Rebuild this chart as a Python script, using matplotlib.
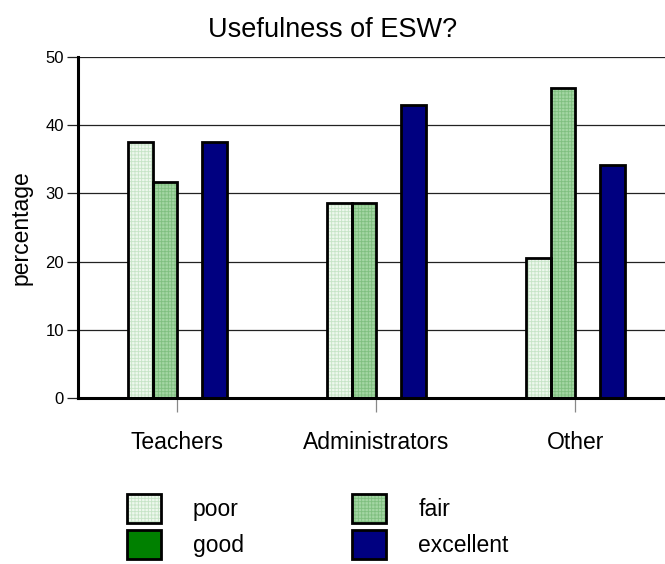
import matplotlib
matplotlib.use("Agg")
import matplotlib.pyplot as plt
import numpy as np
from matplotlib.legend_handler import HandlerTuple

categories = ["Teachers", "Administrators", "Other"]
series = ["poor", "fair", "good", "excellent"]
poor = [37.5, 28.6, 20.5]
fair = [31.6, 28.6, 45.5]
good = [0.0, 0.0, 0.0]
excellent = [37.5, 42.9, 34.1]
values = [poor, fair, good, excellent]

fills = ["#eef8ee", "#a4d6a4", "#008000", "#000080"]
hatch_colors = ["#c6e4c6", "#7fbf7f", None, None]

plt.rcParams["font.family"] = ["Liberation Sans", "DejaVu Sans"]
plt.rcParams["hatch.linewidth"] = 0.6

fig = plt.figure(figsize=(6.65, 5.64), dpi=100)
ax = fig.add_axes([0.1173, 0.2943, 0.8827, 0.6047])

x = np.arange(len(categories))
width = 0.125
handles = []
for i, (name, vals) in enumerate(zip(series, values)):
    pos = x + (i - 1.5) * width
    if hatch_colors[i] is not None:
        under = ax.bar(pos, vals, width, color=fills[i], edgecolor=hatch_colors[i],
                       hatch="+" * 5, linewidth=0, zorder=2)
    else:
        under = ax.bar(pos, vals, width, color=fills[i], linewidth=0, zorder=2)
    outline = ax.bar(pos, vals, width, facecolor="none", edgecolor="black",
                     linewidth=2.0, zorder=3)
    handles.append((under.patches[0], outline.patches[0]))

ax.set_xlim(-0.5, 2.45)
ax.set_ylim(0, 50)
ax.set_yticks(range(0, 51, 10))
ax.yaxis.grid(True, color="#222222", linewidth=0.9, zorder=1)
ax.set_axisbelow(True)

for side in ("top", "right"):
    ax.spines[side].set_visible(False)
for side in ("left", "bottom"):
    ax.spines[side].set_linewidth(2.2)
    ax.spines[side].set_zorder(4)

ax.tick_params(axis="y", direction="out", length=8, width=0.9, color="#222222",
               labelsize=12, pad=2)
ax.set_xticks(x)
ax.set_xticklabels(categories, fontsize=16.5)
ax.tick_params(axis="x", direction="out", length=10, width=0.9, color="#888888", pad=14)

ax.set_ylabel("percentage", fontsize=16.5, labelpad=9)
fig.text(0.5, 1 - 30 / 564, "Usefulness of ESW?", fontsize=19.5,
         ha="center", va="center")

# legend fills column by column, so order entries to read across rows
order = [0, 2, 1, 3]
fig.legend([handles[k] for k in order], [series[k] for k in order],
           ncol=2, loc="lower left",
           bbox_to_anchor=(0.173, -0.012), frameon=False, fontsize=16.5,
           handler_map={tuple: HandlerTuple(ndivide=1)},
           handlelength=1.5, handleheight=1.6, handletextpad=1.4,
           columnspacing=4.7, labelspacing=0.3, borderpad=0.0)

fig.savefig("out.png", dpi=100)
